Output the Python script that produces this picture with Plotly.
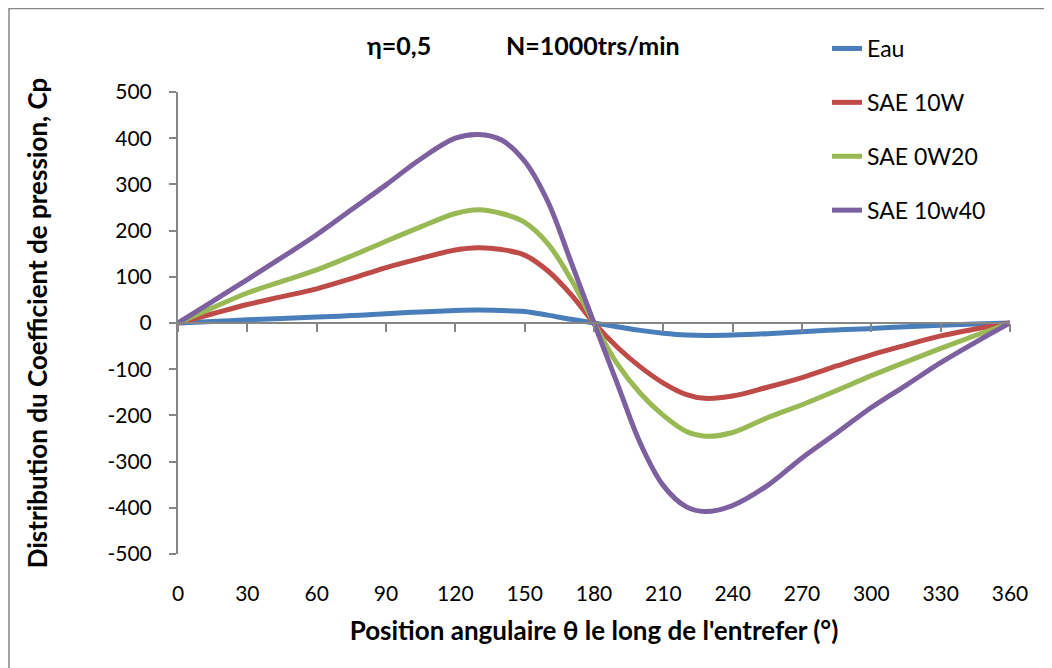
import plotly.graph_objects as go

theta = [0, 15, 30, 45, 60, 75, 90, 105, 120, 130, 140, 150, 160, 170, 180,
         190, 200, 210, 220, 228, 240, 255, 270, 285, 300, 315, 330, 345, 360]

eau = [0, 3, 7, 10, 13, 16, 20, 24, 27, 28, 27, 25, 17, 8, 0,
       -8, -16, -22, -26, -27, -26, -23, -19, -15, -12, -8, -5, -2, 0]
sae_10w = [0, 20, 40, 57, 74, 96, 120, 140, 158, 163, 159, 147, 113, 62, 0,
           -52, -95, -130, -155, -163, -158, -139, -118, -93, -69, -48, -28, -13, 0]
sae_0w20 = [0, 33, 65, 90, 115, 145, 177, 208, 237, 245, 237, 218, 172, 95, 0,
            -88, -152, -200, -235, -245, -237, -205, -177, -146, -114, -84, -55, -27, 0]
sae_10w40 = [0, 47, 94, 142, 191, 245, 299, 355, 400, 408, 396, 350, 263, 133, 0,
             -130, -260, -352, -398, -408, -395, -352, -292, -238, -183, -135, -86, -42, 0]

series_names = ["Eau", "SAE 10W", "SAE 0W20", "SAE 10w40"]
series_values = [eau, sae_10w, sae_0w20, sae_10w40]
colors = ["#4A7EBB", "#BE4B48", "#98B954", "#7D60A0"]

x_ticks = list(range(0, 361, 30))
y_ticks = list(range(-500, 501, 100))

FONT = "Lato"
GRAY = "#868686"

fig = go.Figure()
for name, vals, col in zip(series_names, series_values, colors):
    fig.add_trace(go.Scatter(
        x=theta, y=vals, name=name, mode="lines",
        line=dict(color=col, width=5, shape="spline", smoothing=1.0),
        legendgroup=name,
    ))

# invisible trace to drive the axis drawn at y=0
fig.add_trace(go.Scatter(x=[0, 360], y=[0, 0], xaxis="x2", mode="lines",
                         line=dict(width=0), showlegend=False, hoverinfo="skip"))

# plot area sits at page px x 178..1010, y 92..554 (page has an 8px body margin)
def px_x(p):
    return (p - 178) / 832

def px_y(p):
    return (554 - p) / 462

fig.update_layout(
    width=1044, height=660,
    margin=dict(l=170, r=42, t=84, b=114),
    paper_bgcolor="white", plot_bgcolor="white",
    font=dict(family=FONT, size=21, color="black"),
    showlegend=True,
    legend=dict(x=px_x(827), y=px_y(27), xanchor="left", yanchor="top",
                font=dict(family=FONT, size=23, color="black"),
                tracegroupgap=21, bgcolor="rgba(0,0,0,0)"),
    xaxis=dict(range=[0, 360], tickvals=x_ticks, ticktext=[str(v) for v in x_ticks],
               showline=False, showgrid=False, zeroline=False, ticks="",
               ticklabelstandoff=25,
               tickfont=dict(family=FONT, size=21, color="black"),
               title=dict(text="<b>Position angulaire θ le long de l'entrefer (°)</b>",
                          font=dict(family=FONT, size=26, color="black"), standoff=17)),
    xaxis2=dict(range=[0, 360], overlaying="x", anchor="free", position=0.5,
                tickvals=x_ticks, showticklabels=False, ticks="outside", ticklen=8,
                tickcolor=GRAY, tickwidth=2, showline=True, linecolor=GRAY, linewidth=2,
                showgrid=False, zeroline=False),
    yaxis=dict(range=[-500, 500], tickvals=y_ticks, ticktext=[str(v) for v in y_ticks],
               showline=True, linecolor=GRAY, linewidth=2, ticks="outside", ticklen=7,
               tickcolor=GRAY, tickwidth=2, showgrid=False, zeroline=False,
               ticklabelstandoff=13,
               tickfont=dict(family=FONT, size=21, color="black"),
               title=dict(text="<b>Distribution du Coefficient de pression, Cp</b>",
                          font=dict(family=FONT, size=26, color="black"), standoff=52)),
)

# titles inside the chart
fig.add_annotation(x=px_x(399), y=px_y(45), xref="paper", yref="paper",
                   xanchor="center", yanchor="middle",
                   text="<b>η=0,5</b>", showarrow=False,
                   font=dict(family=FONT, size=25, color="black"))
fig.add_annotation(x=px_x(593), y=px_y(45), xref="paper", yref="paper",
                   xanchor="center", yanchor="middle",
                   text="<b>N=1000trs/min</b>", showarrow=False,
                   font=dict(family=FONT, size=25, color="black"))

# chart border
fig.add_shape(type="rect", xref="paper", yref="paper",
              x0=px_x(9), x1=px_x(1045), y0=px_y(700), y1=px_y(8.5),
              line=dict(color=GRAY, width=1.5), fillcolor="rgba(0,0,0,0)", layer="below")

fig.write_html("out.html")
